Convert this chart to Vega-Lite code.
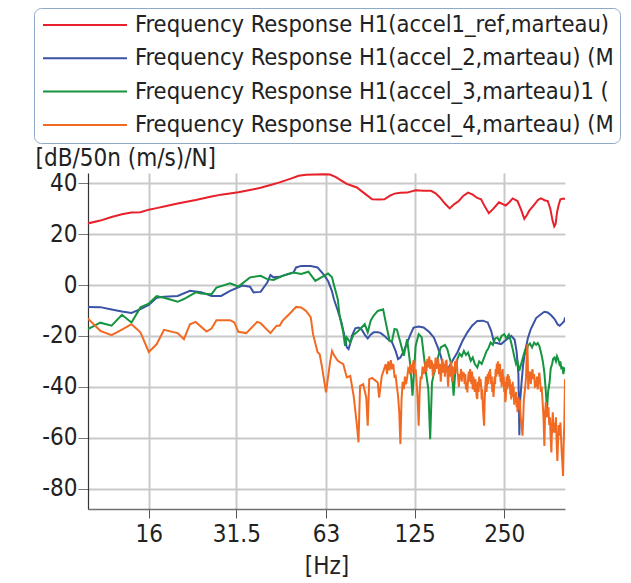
{
  "$schema": "https://vega.github.io/schema/vega-lite/v6.json",
  "width": 477,
  "height": 336,
  "autosize": {"type": "none"},
  "padding": {"left": 88, "top": 173, "right": 66, "bottom": 74},
  "background": "white",
  "config": {
    "font": "DejaVu Sans Condensed, DejaVu Sans, sans-serif",
    "view": {"stroke": null},
    "axis": {
      "labelFontSize": 24,
      "labelColor": "#222222",
      "titleFontSize": 24,
      "titleFontWeight": "normal",
      "titleColor": "#222222",
      "grid": true,
      "gridColor": "#c9c9c9",
      "gridWidth": 2,
      "labelExpr": "'' + datum.value"
    }
  },
  "encoding": {
    "x": {
      "field": "hz",
      "type": "quantitative",
      "scale": {"type": "log", "domain": [10, 400], "nice": false},
      "axis": {
        "values": [16, 31.5, 63, 125, 250],
        "title": "[Hz]",
        "titlePadding": 8,
        "domainColor": "#707070",
        "domainWidth": 1.5,
        "tickColor": "#555555",
        "tickSize": 9,
        "labelPadding": 4
      }
    },
    "y": {
      "field": "db",
      "type": "quantitative",
      "scale": {"domain": [-88, 44], "nice": false, "zero": false},
      "axis": {
        "values": [-80, -60, -40, -20, 0, 20, 40],
        "title": "[dB/50n (m/s)/N]",
        "titleAngle": 0,
        "titleAlign": "left",
        "titleBaseline": "alphabetic",
        "titleX": -53,
        "titleY": -8,
        "domainColor": "#333333",
        "domainWidth": 1.2,
        "tickColor": "#777777",
        "tickSize": 10,
        "labelPadding": 1
      }
    }
  },
  "layer": [
    {
      "data": {"values": [
        {"hz": 10, "db": 24.2}, {"hz": 11, "db": 25.3}, {"hz": 12, "db": 26.7}, {"hz": 13, "db": 27.8},
        {"hz": 14, "db": 28.5}, {"hz": 15, "db": 28.6}, {"hz": 16, "db": 29.6}, {"hz": 17, "db": 30.2},
        {"hz": 18, "db": 30.8}, {"hz": 20, "db": 32.0}, {"hz": 23, "db": 33.4}, {"hz": 26, "db": 34.8},
        {"hz": 28, "db": 35.5}, {"hz": 32, "db": 36.4}, {"hz": 35, "db": 37.3}, {"hz": 38, "db": 38.2},
        {"hz": 41, "db": 39.3}, {"hz": 44, "db": 40.3}, {"hz": 48, "db": 41.8}, {"hz": 51, "db": 42.9},
        {"hz": 54, "db": 43.3}, {"hz": 58, "db": 43.4}, {"hz": 62, "db": 43.5}, {"hz": 65, "db": 43.4},
        {"hz": 68, "db": 42.4}, {"hz": 71, "db": 41.0}, {"hz": 74, "db": 39.7}, {"hz": 77, "db": 39.0},
        {"hz": 80, "db": 38.3}, {"hz": 84, "db": 36.4}, {"hz": 87, "db": 35.0}, {"hz": 90, "db": 33.7},
        {"hz": 95, "db": 33.6}, {"hz": 99, "db": 33.7}, {"hz": 103, "db": 35.0}, {"hz": 107, "db": 35.9},
        {"hz": 112, "db": 36.2}, {"hz": 118, "db": 36.3}, {"hz": 126, "db": 37.2}, {"hz": 134, "db": 37.0},
        {"hz": 142, "db": 37.0}, {"hz": 147, "db": 36.0}, {"hz": 152, "db": 34.4}, {"hz": 158, "db": 32.0},
        {"hz": 164, "db": 30.1}, {"hz": 170, "db": 31.8}, {"hz": 176, "db": 33.0}, {"hz": 182, "db": 35.0},
        {"hz": 189, "db": 36.3}, {"hz": 196, "db": 35.5}, {"hz": 203, "db": 34.2}, {"hz": 209, "db": 33.7},
        {"hz": 216, "db": 30.5}, {"hz": 222, "db": 28.2}, {"hz": 230, "db": 30.0}, {"hz": 240, "db": 32.5},
        {"hz": 253, "db": 31.2}, {"hz": 260, "db": 32.5}, {"hz": 267, "db": 34.0}, {"hz": 277, "db": 33.0},
        {"hz": 285, "db": 29.5}, {"hz": 292, "db": 26.0}, {"hz": 298, "db": 27.5}, {"hz": 303, "db": 29.1},
        {"hz": 315, "db": 31.5}, {"hz": 325, "db": 33.5}, {"hz": 332, "db": 34.0}, {"hz": 343, "db": 33.2},
        {"hz": 350, "db": 33.0}, {"hz": 357, "db": 30.0}, {"hz": 363, "db": 25.5}, {"hz": 368, "db": 23.0},
        {"hz": 372, "db": 24.0}, {"hz": 376, "db": 28.5}, {"hz": 381, "db": 31.5}, {"hz": 386, "db": 33.7},
        {"hz": 395, "db": 34.0}, {"hz": 400, "db": 33.7}
      ]},
      "mark": {"type": "line", "strokeWidth": 2, "clip": true},
      "encoding": {
        "color": {
          "datum": "Frequency Response H1(accel1_ref,marteau)",
          "scale": {
            "domain": [
              "Frequency Response H1(accel1_ref,marteau)",
              "Frequency Response H1(accel_2,marteau) (M",
              "Frequency Response H1(accel_3,marteau)1 (",
              "Frequency Response H1(accel_4,marteau) (M"
            ],
            "range": ["#e8202a", "#3a53a4", "#17943f", "#f26a22"]
          },
          "legend": {
            "orient": "none",
            "legendX": -54,
            "legendY": -165,
            "title": null,
            "direction": "vertical",
            "symbolType": "stroke",
            "symbolSize": 7056,
            "symbolStrokeWidth": 2,
            "symbolOffset": 2,
            "clipHeight": 22,
            "rowPadding": 9.3,
            "padding": 6,
            "labelFontSize": 23.5,
            "labelColor": "#222222",
            "labelOffset": 7,
            "labelLimit": 482,
            "strokeColor": "#8fa9c9",
            "cornerRadius": 7,
            "fillColor": "white",
            "encode": {"labels": {"update": {"ellipsis": {"value": ""}}}}
          }
        }
      }
    },
    {
      "data": {"values": [
        {"hz": 10, "db": -8.6}, {"hz": 11, "db": -8.7}, {"hz": 12, "db": -9.6}, {"hz": 13, "db": -10.4},
        {"hz": 14, "db": -11.0}, {"hz": 15, "db": -9.5}, {"hz": 16, "db": -7.8}, {"hz": 17, "db": -5.0},
        {"hz": 18, "db": -4.6}, {"hz": 20, "db": -4.3}, {"hz": 22, "db": -2.3}, {"hz": 24, "db": -2.8},
        {"hz": 26, "db": -4.3}, {"hz": 28, "db": -4.3}, {"hz": 30, "db": -2.3}, {"hz": 33, "db": -0.2},
        {"hz": 35, "db": -0.7}, {"hz": 36, "db": -2.9}, {"hz": 38, "db": -2.7}, {"hz": 40, "db": 1.0},
        {"hz": 41, "db": 3.9}, {"hz": 42, "db": 3.0}, {"hz": 44, "db": 3.2}, {"hz": 47, "db": 4.3},
        {"hz": 49, "db": 4.9}, {"hz": 50, "db": 6.9}, {"hz": 52, "db": 7.5}, {"hz": 56, "db": 7.5},
        {"hz": 59, "db": 6.9}, {"hz": 62, "db": 4.0}, {"hz": 64, "db": 1.6}, {"hz": 66, "db": -2.5},
        {"hz": 67, "db": -5.6}, {"hz": 69, "db": -10.0}, {"hz": 71, "db": -14.7}, {"hz": 73, "db": -21.0},
        {"hz": 74, "db": -24.5}, {"hz": 75, "db": -25.2}, {"hz": 76, "db": -23.0}, {"hz": 77, "db": -20.0},
        {"hz": 79, "db": -17.0}, {"hz": 81, "db": -16.7}, {"hz": 83, "db": -17.5}, {"hz": 85, "db": -19.5},
        {"hz": 87, "db": -21.0}, {"hz": 89, "db": -19.5}, {"hz": 91, "db": -18.6}, {"hz": 94, "db": -18.6},
        {"hz": 96, "db": -18.8}, {"hz": 99, "db": -20.0}, {"hz": 101, "db": -21.0}, {"hz": 105, "db": -22.5},
        {"hz": 108, "db": -26.0}, {"hz": 110, "db": -29.1}, {"hz": 112, "db": -28.5}, {"hz": 115, "db": -26.0},
        {"hz": 118, "db": -22.6}, {"hz": 121, "db": -19.5}, {"hz": 124, "db": -16.7}, {"hz": 129, "db": -16.3},
        {"hz": 134, "db": -16.7}, {"hz": 140, "db": -18.5}, {"hz": 145, "db": -20.6}, {"hz": 149, "db": -24.0},
        {"hz": 153, "db": -27.8}, {"hz": 158, "db": -34.4}, {"hz": 164, "db": -31.8}, {"hz": 169, "db": -29.0},
        {"hz": 174, "db": -26.5}, {"hz": 181, "db": -22.0}, {"hz": 188, "db": -18.6}, {"hz": 195, "db": -16.0},
        {"hz": 203, "db": -14.1}, {"hz": 212, "db": -14.0}, {"hz": 220, "db": -14.7}, {"hz": 226, "db": -18.0},
        {"hz": 231, "db": -22.6}, {"hz": 244, "db": -23.2}, {"hz": 254, "db": -21.5}, {"hz": 264, "db": -20.0},
        {"hz": 271, "db": -21.5}, {"hz": 275, "db": -26.0}, {"hz": 279, "db": -35.0}, {"hz": 281, "db": -59.0},
        {"hz": 283, "db": -45.0}, {"hz": 286, "db": -38.0}, {"hz": 289, "db": -32.0}, {"hz": 292, "db": -27.8},
        {"hz": 300, "db": -21.0}, {"hz": 307, "db": -17.3}, {"hz": 320, "db": -13.0}, {"hz": 332, "db": -11.5},
        {"hz": 341, "db": -10.5}, {"hz": 350, "db": -10.8}, {"hz": 360, "db": -12.0}, {"hz": 369, "db": -13.4},
        {"hz": 378, "db": -15.5}, {"hz": 384, "db": -16.0}, {"hz": 392, "db": -15.0}, {"hz": 398, "db": -14.1},
        {"hz": 400, "db": -12.7}
      ]},
      "mark": {"type": "line", "strokeWidth": 2, "clip": true},
      "encoding": {"color": {"datum": "Frequency Response H1(accel_2,marteau) (M"}}
    },
    {
      "data": {"values": [
        {"hz": 10, "db": -17.3}, {"hz": 11, "db": -14.8}, {"hz": 12, "db": -16.0}, {"hz": 13, "db": -11.7},
        {"hz": 14, "db": -14.7}, {"hz": 15, "db": -8.8}, {"hz": 16, "db": -7.3}, {"hz": 17, "db": -4.4},
        {"hz": 18, "db": -5.0}, {"hz": 19, "db": -5.8}, {"hz": 20, "db": -6.6}, {"hz": 21, "db": -5.5},
        {"hz": 23, "db": -2.9}, {"hz": 24, "db": -3.3}, {"hz": 26, "db": -3.6}, {"hz": 27, "db": -1.0},
        {"hz": 30, "db": 0.7}, {"hz": 32, "db": -0.6}, {"hz": 35, "db": 3.0}, {"hz": 38, "db": 3.6},
        {"hz": 40, "db": 2.3}, {"hz": 42, "db": 2.0}, {"hz": 45, "db": 3.6}, {"hz": 49, "db": 4.9},
        {"hz": 52, "db": 4.3}, {"hz": 55, "db": 5.2}, {"hz": 58, "db": 1.6}, {"hz": 62, "db": 3.6},
        {"hz": 64, "db": 4.5}, {"hz": 66, "db": 3.0}, {"hz": 67, "db": 0.0}, {"hz": 69, "db": -5.6},
        {"hz": 70, "db": -12.0}, {"hz": 72, "db": -18.6}, {"hz": 73, "db": -23.9}, {"hz": 74, "db": -20.6},
        {"hz": 76, "db": -22.6}, {"hz": 78, "db": -19.5}, {"hz": 80, "db": -18.6}, {"hz": 82, "db": -17.3},
        {"hz": 85, "db": -15.4}, {"hz": 87, "db": -18.6}, {"hz": 89, "db": -14.0}, {"hz": 91, "db": -12.1},
        {"hz": 94, "db": -10.2}, {"hz": 98, "db": -9.5}, {"hz": 100, "db": -14.7}, {"hz": 103, "db": -21.9},
        {"hz": 105, "db": -22.0}, {"hz": 107, "db": -17.3}, {"hz": 109, "db": -17.5}, {"hz": 112, "db": -22.6},
        {"hz": 115, "db": -27.8}, {"hz": 118, "db": -21.3}, {"hz": 121, "db": -31.8}, {"hz": 123, "db": -43.5},
        {"hz": 126, "db": -23.9}, {"hz": 129, "db": -19.3}, {"hz": 132, "db": -20.5}, {"hz": 134, "db": -27.0},
        {"hz": 136, "db": -33.1}, {"hz": 139, "db": -40.9}, {"hz": 141, "db": -60.6}, {"hz": 143, "db": -38.3},
        {"hz": 147, "db": -31.8}, {"hz": 153, "db": -24.5}, {"hz": 158, "db": -23.5}, {"hz": 161, "db": -25.2},
        {"hz": 165, "db": -30.0}, {"hz": 167, "db": -34.4}, {"hz": 169, "db": -43.5}, {"hz": 171, "db": -35.0},
        {"hz": 174, "db": -29.1}, {"hz": 177, "db": -27.0}, {"hz": 180, "db": -28.0}, {"hz": 183, "db": -25.9},
        {"hz": 186, "db": -27.5}, {"hz": 189, "db": -26.5}, {"hz": 193, "db": -29.8}, {"hz": 196, "db": -28.5},
        {"hz": 199, "db": -31.0}, {"hz": 203, "db": -32.4}, {"hz": 206, "db": -30.0}, {"hz": 210, "db": -31.0},
        {"hz": 214, "db": -28.5}, {"hz": 218, "db": -26.0}, {"hz": 221, "db": -25.0}, {"hz": 225, "db": -22.6},
        {"hz": 229, "db": -23.5}, {"hz": 233, "db": -21.0}, {"hz": 237, "db": -20.6}, {"hz": 241, "db": -22.0},
        {"hz": 245, "db": -20.0}, {"hz": 250, "db": -19.3}, {"hz": 254, "db": -21.0}, {"hz": 259, "db": -19.5},
        {"hz": 263, "db": -22.0}, {"hz": 267, "db": -25.2}, {"hz": 270, "db": -28.0}, {"hz": 274, "db": -31.1},
        {"hz": 277, "db": -30.0}, {"hz": 281, "db": -33.7}, {"hz": 285, "db": -31.0}, {"hz": 289, "db": -28.5},
        {"hz": 293, "db": -26.0}, {"hz": 296, "db": -27.0}, {"hz": 300, "db": -23.9}, {"hz": 305, "db": -23.0},
        {"hz": 310, "db": -24.5}, {"hz": 315, "db": -22.6}, {"hz": 320, "db": -23.5}, {"hz": 324, "db": -22.8},
        {"hz": 328, "db": -24.0}, {"hz": 333, "db": -27.0}, {"hz": 337, "db": -30.0}, {"hz": 341, "db": -34.4},
        {"hz": 344, "db": -40.0}, {"hz": 348, "db": -48.8}, {"hz": 351, "db": -42.0}, {"hz": 355, "db": -38.3},
        {"hz": 358, "db": -33.0}, {"hz": 362, "db": -31.0}, {"hz": 365, "db": -29.0}, {"hz": 369, "db": -28.5},
        {"hz": 373, "db": -30.0}, {"hz": 376, "db": -28.0}, {"hz": 379, "db": -29.0}, {"hz": 383, "db": -31.0},
        {"hz": 386, "db": -30.0}, {"hz": 389, "db": -33.1}, {"hz": 392, "db": -32.0}, {"hz": 395, "db": -35.0},
        {"hz": 398, "db": -32.4}, {"hz": 400, "db": -34.0}
      ]},
      "mark": {"type": "line", "strokeWidth": 2, "clip": true},
      "encoding": {"color": {"datum": "Frequency Response H1(accel_3,marteau)1 ("}}
    },
    {
      "data": {"values": [
        {"hz": 10, "db": -13.2}, {"hz": 11, "db": -18.0}, {"hz": 12, "db": -19.7}, {"hz": 13, "db": -17.5},
        {"hz": 14, "db": -15.4}, {"hz": 15, "db": -18.6}, {"hz": 16, "db": -26.3}, {"hz": 17, "db": -23.3},
        {"hz": 18, "db": -17.6}, {"hz": 20, "db": -18.9}, {"hz": 21, "db": -21.3}, {"hz": 22, "db": -15.4},
        {"hz": 23, "db": -14.5}, {"hz": 25, "db": -18.3}, {"hz": 26, "db": -17.1}, {"hz": 27, "db": -13.8},
        {"hz": 30, "db": -13.8}, {"hz": 31, "db": -14.7}, {"hz": 32, "db": -18.4}, {"hz": 34, "db": -18.9},
        {"hz": 37, "db": -14.5}, {"hz": 38, "db": -15.0}, {"hz": 41, "db": -18.9}, {"hz": 43, "db": -16.0},
        {"hz": 44, "db": -16.0}, {"hz": 45, "db": -14.1}, {"hz": 48, "db": -10.8}, {"hz": 50, "db": -8.6},
        {"hz": 52, "db": -8.8}, {"hz": 54, "db": -10.2}, {"hz": 56, "db": -12.7}, {"hz": 57, "db": -19.3},
        {"hz": 59, "db": -26.3}, {"hz": 60, "db": -27.2}, {"hz": 61, "db": -31.8}, {"hz": 62, "db": -37.0},
        {"hz": 63, "db": -42.2}, {"hz": 65, "db": -30.4}, {"hz": 66, "db": -25.9}, {"hz": 67, "db": -27.5},
        {"hz": 69, "db": -29.8}, {"hz": 72, "db": -31.1}, {"hz": 74, "db": -36.3}, {"hz": 76, "db": -35.7},
        {"hz": 78, "db": -43.5}, {"hz": 80, "db": -55.0}, {"hz": 81, "db": -61.8}, {"hz": 82, "db": -39.6},
        {"hz": 84, "db": -39.0}, {"hz": 86, "db": -44.2}, {"hz": 87, "db": -55.3}, {"hz": 88, "db": -37.0},
        {"hz": 90, "db": -36.5}, {"hz": 94, "db": -38.3}, {"hz": 95, "db": -44.2}, {"hz": 97, "db": -35.7},
        {"hz": 100, "db": -31.1}, {"hz": 101, "db": -35.0}, {"hz": 102, "db": -30.0}, {"hz": 103, "db": -33.5},
        {"hz": 104, "db": -29.5}, {"hz": 105, "db": -33.1}, {"hz": 106, "db": -31.0}, {"hz": 107, "db": -36.0},
        {"hz": 108, "db": -35.7}, {"hz": 109, "db": -40.0}, {"hz": 110, "db": -43.5}, {"hz": 111, "db": -50.0},
        {"hz": 112, "db": -62.5}, {"hz": 113, "db": -45.0}, {"hz": 114, "db": -38.0}, {"hz": 115, "db": -40.9},
        {"hz": 116, "db": -36.0}, {"hz": 117, "db": -39.0}, {"hz": 118, "db": -36.3}, {"hz": 119, "db": -33.0},
        {"hz": 120, "db": -34.0}, {"hz": 121, "db": -31.0}, {"hz": 122, "db": -35.0}, {"hz": 123, "db": -32.0},
        {"hz": 124, "db": -29.5}, {"hz": 125, "db": -34.0}, {"hz": 126, "db": -33.1}, {"hz": 127, "db": -38.0},
        {"hz": 128, "db": -45.0}, {"hz": 129, "db": -55.3}, {"hz": 130, "db": -42.0}, {"hz": 131, "db": -36.0},
        {"hz": 132, "db": -37.0}, {"hz": 133, "db": -32.0}, {"hz": 134, "db": -35.0}, {"hz": 135, "db": -33.7},
        {"hz": 136, "db": -30.0}, {"hz": 137, "db": -34.0}, {"hz": 138, "db": -29.0}, {"hz": 139, "db": -32.4},
        {"hz": 140, "db": -28.0}, {"hz": 141, "db": -33.0}, {"hz": 142, "db": -29.5}, {"hz": 143, "db": -30.4},
        {"hz": 144, "db": -36.0}, {"hz": 145, "db": -31.0}, {"hz": 146, "db": -34.4}, {"hz": 147, "db": -28.5},
        {"hz": 148, "db": -33.0}, {"hz": 149, "db": -30.0}, {"hz": 150, "db": -29.1}, {"hz": 151, "db": -35.0},
        {"hz": 152, "db": -31.0}, {"hz": 153, "db": -38.0}, {"hz": 154, "db": -33.0}, {"hz": 155, "db": -29.0},
        {"hz": 156, "db": -34.4}, {"hz": 157, "db": -31.0}, {"hz": 158, "db": -36.0}, {"hz": 159, "db": -30.0},
        {"hz": 160, "db": -29.8}, {"hz": 161, "db": -34.0}, {"hz": 162, "db": -40.0}, {"hz": 163, "db": -33.0},
        {"hz": 164, "db": -31.8}, {"hz": 165, "db": -36.0}, {"hz": 166, "db": -30.0}, {"hz": 167, "db": -38.0},
        {"hz": 168, "db": -37.0}, {"hz": 169, "db": -32.0}, {"hz": 170, "db": -35.0}, {"hz": 171, "db": -30.0},
        {"hz": 172, "db": -33.0}, {"hz": 173, "db": -29.1}, {"hz": 174, "db": -34.0}, {"hz": 175, "db": -36.0},
        {"hz": 176, "db": -40.0}, {"hz": 177, "db": -35.0}, {"hz": 178, "db": -37.0}, {"hz": 179, "db": -33.0},
        {"hz": 180, "db": -38.0}, {"hz": 181, "db": -34.0}, {"hz": 182, "db": -36.0}, {"hz": 183, "db": -34.4},
        {"hz": 184, "db": -39.0}, {"hz": 185, "db": -35.0}, {"hz": 186, "db": -41.0}, {"hz": 187, "db": -38.0},
        {"hz": 188, "db": -42.2}, {"hz": 189, "db": -37.0}, {"hz": 190, "db": -34.0}, {"hz": 191, "db": -38.0},
        {"hz": 192, "db": -33.0}, {"hz": 193, "db": -35.7}, {"hz": 194, "db": -39.0}, {"hz": 195, "db": -34.0},
        {"hz": 196, "db": -41.0}, {"hz": 197, "db": -36.0}, {"hz": 198, "db": -38.3}, {"hz": 199, "db": -42.0},
        {"hz": 200, "db": -37.0}, {"hz": 201, "db": -40.0}, {"hz": 202, "db": -44.0}, {"hz": 203, "db": -44.8},
        {"hz": 204, "db": -38.0}, {"hz": 205, "db": -42.0}, {"hz": 206, "db": -36.0}, {"hz": 207, "db": -40.0},
        {"hz": 208, "db": -37.0}, {"hz": 209, "db": -39.0}, {"hz": 210, "db": -45.0}, {"hz": 211, "db": -41.0},
        {"hz": 212, "db": -48.0}, {"hz": 213, "db": -52.0}, {"hz": 214, "db": -55.3}, {"hz": 215, "db": -45.0},
        {"hz": 216, "db": -40.0}, {"hz": 217, "db": -36.0}, {"hz": 218, "db": -42.0}, {"hz": 219, "db": -38.3},
        {"hz": 220, "db": -35.0}, {"hz": 221, "db": -39.0}, {"hz": 222, "db": -34.0}, {"hz": 223, "db": -37.0},
        {"hz": 224, "db": -33.0}, {"hz": 225, "db": -35.7}, {"hz": 226, "db": -39.0}, {"hz": 227, "db": -36.0},
        {"hz": 228, "db": -42.0}, {"hz": 229, "db": -38.0}, {"hz": 230, "db": -44.0}, {"hz": 231, "db": -40.9},
        {"hz": 232, "db": -36.0}, {"hz": 233, "db": -39.0}, {"hz": 234, "db": -33.0}, {"hz": 235, "db": -36.0},
        {"hz": 236, "db": -31.0}, {"hz": 237, "db": -35.0}, {"hz": 238, "db": -30.0}, {"hz": 239, "db": -34.0},
        {"hz": 240, "db": -32.4}, {"hz": 241, "db": -36.0}, {"hz": 242, "db": -31.0}, {"hz": 243, "db": -38.0},
        {"hz": 244, "db": -34.0}, {"hz": 245, "db": -40.0}, {"hz": 246, "db": -37.0}, {"hz": 247, "db": -33.0},
        {"hz": 248, "db": -39.0}, {"hz": 249, "db": -36.0}, {"hz": 250, "db": -42.0}, {"hz": 251, "db": -38.0},
        {"hz": 252, "db": -46.0}, {"hz": 253, "db": -44.8}, {"hz": 254, "db": -39.0}, {"hz": 255, "db": -36.0},
        {"hz": 256, "db": -41.0}, {"hz": 257, "db": -35.0}, {"hz": 258, "db": -38.0}, {"hz": 259, "db": -35.7},
        {"hz": 260, "db": -40.0}, {"hz": 261, "db": -37.0}, {"hz": 262, "db": -43.0}, {"hz": 263, "db": -39.0},
        {"hz": 264, "db": -45.0}, {"hz": 265, "db": -41.0}, {"hz": 266, "db": -42.2}, {"hz": 267, "db": -38.0},
        {"hz": 268, "db": -44.0}, {"hz": 269, "db": -40.0}, {"hz": 270, "db": -47.0}, {"hz": 271, "db": -43.0},
        {"hz": 272, "db": -45.0}, {"hz": 273, "db": -46.2}, {"hz": 274, "db": -42.0}, {"hz": 275, "db": -48.0},
        {"hz": 276, "db": -44.0}, {"hz": 277, "db": -50.0}, {"hz": 278, "db": -46.0}, {"hz": 279, "db": -44.0},
        {"hz": 280, "db": -48.8}, {"hz": 282, "db": -45.0}, {"hz": 284, "db": -52.0}, {"hz": 286, "db": -55.0},
        {"hz": 288, "db": -59.2}, {"hz": 290, "db": -50.0}, {"hz": 291, "db": -45.0}, {"hz": 292, "db": -43.5},
        {"hz": 294, "db": -40.0}, {"hz": 296, "db": -36.0}, {"hz": 297, "db": -30.0}, {"hz": 298, "db": -26.0},
        {"hz": 299, "db": -23.2}, {"hz": 300, "db": -30.0}, {"hz": 301, "db": -41.0}, {"hz": 302, "db": -36.0},
        {"hz": 303, "db": -37.0}, {"hz": 305, "db": -34.0}, {"hz": 307, "db": -39.0}, {"hz": 309, "db": -35.0},
        {"hz": 311, "db": -33.1}, {"hz": 313, "db": -37.0}, {"hz": 315, "db": -35.0}, {"hz": 317, "db": -40.0},
        {"hz": 320, "db": -39.6}, {"hz": 322, "db": -36.0}, {"hz": 324, "db": -41.0}, {"hz": 326, "db": -37.0},
        {"hz": 328, "db": -34.4}, {"hz": 330, "db": -38.0}, {"hz": 332, "db": -42.0}, {"hz": 334, "db": -40.0},
        {"hz": 336, "db": -45.0}, {"hz": 337, "db": -47.5}, {"hz": 339, "db": -53.0}, {"hz": 341, "db": -63.2},
        {"hz": 343, "db": -50.0}, {"hz": 345, "db": -46.0}, {"hz": 347, "db": -52.0}, {"hz": 350, "db": -50.1},
        {"hz": 352, "db": -48.0}, {"hz": 354, "db": -55.0}, {"hz": 356, "db": -52.0}, {"hz": 358, "db": -60.0},
        {"hz": 360, "db": -65.8}, {"hz": 362, "db": -55.0}, {"hz": 364, "db": -50.0}, {"hz": 366, "db": -58.0},
        {"hz": 369, "db": -54.0}, {"hz": 371, "db": -58.0}, {"hz": 373, "db": -52.0}, {"hz": 375, "db": -62.0},
        {"hz": 377, "db": -69.1}, {"hz": 379, "db": -62.0}, {"hz": 381, "db": -55.0}, {"hz": 384, "db": -59.2},
        {"hz": 386, "db": -54.0}, {"hz": 388, "db": -60.0}, {"hz": 390, "db": -66.0}, {"hz": 392, "db": -70.0},
        {"hz": 394, "db": -75.0}, {"hz": 396, "db": -62.0}, {"hz": 398, "db": -54.0}, {"hz": 400, "db": -37.0}
      ]},
      "mark": {"type": "line", "strokeWidth": 2, "clip": true},
      "encoding": {"color": {"datum": "Frequency Response H1(accel_4,marteau) (M"}}
    }
  ]
}
